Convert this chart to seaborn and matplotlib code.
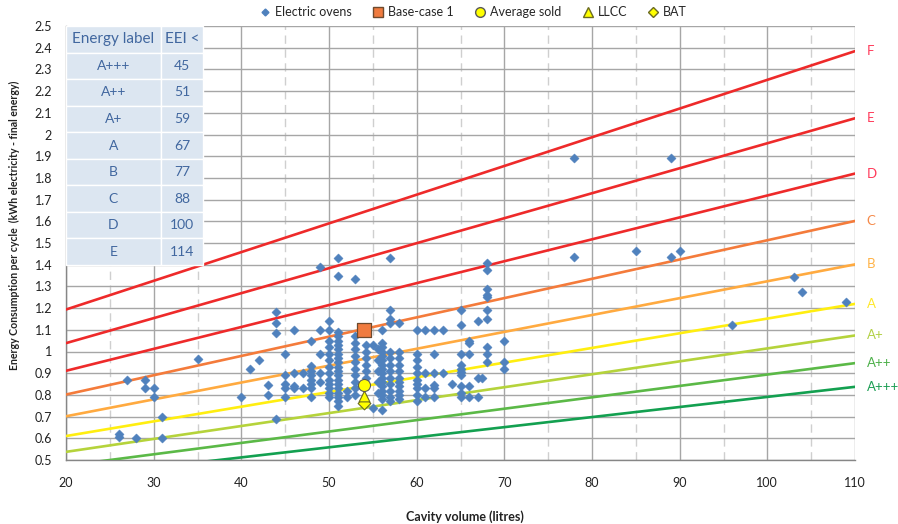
import numpy as np
import pandas as pd
import matplotlib
matplotlib.use("Agg")
import matplotlib.pyplot as plt
import matplotlib.transforms as mtransforms
from matplotlib.lines import Line2D
from matplotlib.ticker import MultipleLocator, FuncFormatter
import seaborn as sns

# ---------------- data ----------------
oven_volume = [
    26, 26, 27, 28, 29, 29, 30, 30, 31, 31, 35, 40, 41, 42, 43, 43,
    44, 44, 44, 44, 45, 45, 45, 45, 45, 46, 46, 46, 46, 47, 47,
    48, 48, 48, 48, 48, 48, 48, 48, 49, 49, 49, 49, 49,
    50, 50, 50, 50, 50, 50, 50, 50, 50, 50, 50, 50, 50,
    51, 51, 51, 51, 51, 51, 51, 51, 51, 51, 51, 51, 51, 51, 51, 51, 51, 51, 51, 51,
    52, 52,
    53, 53, 53, 53, 53, 53, 53, 53, 53, 53, 53,
    54.2, 54.2, 54.2, 54.2, 54.2, 54.2,
    55, 55, 55.6, 55.6, 55.6, 55.6, 55.6,
    56, 56, 56, 56, 56, 56, 56, 56, 56, 56, 56, 56, 56, 56, 56, 56,
    57, 57, 57, 57, 57, 57, 57, 57, 57, 57, 57, 57, 57,
    58, 58, 58, 58, 58, 58, 58, 58, 58, 58, 58,
    60, 60, 60, 60, 60, 60, 60, 60, 60, 60,
    61, 61, 61, 61, 62, 62, 62, 62, 62, 62, 63, 63, 64,
    65, 65, 65, 65, 65, 65, 65, 65, 65, 65,
    66, 66, 66, 66, 66, 67, 67, 67, 67.5,
    68, 68, 68, 68, 68, 68, 68, 68, 68, 68,
    70, 70, 70, 78, 78, 85, 89, 89, 90, 96, 103, 104, 109,
]
oven_energy = [
    0.62, 0.605, 0.87, 0.60, 0.87, 0.83, 0.83, 0.79, 0.70, 0.60, 0.965, 0.79, 0.92, 0.96, 0.845, 0.80,
    1.18, 1.13, 1.085, 0.69, 0.99, 0.89, 0.85, 0.83, 0.79, 1.10, 0.90, 0.84, 0.83, 0.90, 0.83,
    1.05, 0.935, 0.91, 0.89, 0.87, 0.85, 0.83, 0.79, 1.39, 1.10, 0.99, 0.90, 0.86,
    1.14, 1.10, 1.05, 1.02, 0.99, 0.96, 0.93, 0.90, 0.87, 0.85, 0.83, 0.81, 0.79,
    1.43, 1.35, 1.09, 1.07, 1.05, 1.03, 1.01, 0.99, 0.97, 0.95, 0.93, 0.91, 0.89, 0.87, 0.85, 0.83, 0.81, 0.79, 0.77, 0.75,
    0.82, 0.79,
    1.335, 1.07, 1.04, 1.01, 0.98, 0.95, 0.92, 0.89, 0.86, 0.83, 0.80,
    1.03, 1.00, 0.97, 0.94, 0.91, 0.88,
    1.03, 0.74, 1.01, 0.96, 0.91, 0.86, 0.81,
    1.10, 1.04, 1.02, 1.00, 0.98, 0.96, 0.94, 0.92, 0.90, 0.88, 0.86, 0.84, 0.82, 0.80, 0.78, 0.73,
    1.43, 1.19, 1.15, 1.13, 1.00, 0.97, 0.94, 0.91, 0.88, 0.85, 0.82, 0.79, 0.77,
    1.13, 1.00, 0.97, 0.94, 0.91, 0.88, 0.86, 0.84, 0.82, 0.80, 0.78,
    1.10, 0.99, 0.96, 0.93, 0.90, 0.87, 0.85, 0.83, 0.80, 0.77,
    1.10, 0.90, 0.83, 0.79, 1.10, 0.99, 0.90, 0.845, 0.83, 0.79, 1.10, 0.90, 0.85,
    1.19, 1.12, 0.99, 0.94, 0.92, 0.905, 0.89, 0.84, 0.81, 0.79,
    1.05, 1.04, 0.99, 0.84, 0.79, 1.14, 0.88, 0.79, 0.88,
    1.41, 1.375, 1.29, 1.26, 1.25, 1.19, 1.15, 1.02, 0.99, 0.95,
    1.05, 0.95, 0.92, 1.89, 1.435, 1.465, 1.89, 1.435, 1.465, 1.12, 1.345, 1.275, 1.23,
]

base_case_volume = [54]
base_case_energy = [1.10]
average_volume = [54]
average_energy = [0.845]
llcc_volume = [54]
llcc_energy = [0.795]
bat_volume = [54]
bat_energy = [0.762]

# class limit lines (EEI thresholds as drawn) and standard consumption
line_labels = ["A+++", "A++", "A+", "A", "B", "C", "D", "E", "F"]
line_eei = [46, 52, 59, 67, 77, 88, 100, 114, 131]
line_colors = ["#13A050", "#5BB947", "#B5D33B", "#FFEE10", "#FFAA40",
               "#F47B3B", "#EE2A2A", "#EE2A2A", "#EE2A2A"]
label_colors = ["#1E9E55", "#4DB04A", "#B3D145", "#FFE82A", "#FFB347",
                "#F58A4A", "#FF3A5A", "#FF3A5A", "#FF3A5A"]
sec_slope = 0.0101
sec_intercept = 0.709

table_labels = ["A+++", "A++", "A+", "A", "B", "C", "D", "E"]
table_eei = [45, 51, 59, 67, 77, 88, 100, 114]

x_range = [20, 110]
y_range = [0.5, 2.5]

# ---------------- style ----------------
sns.set_style("white")
plt.rcParams["font.family"] = ["Lato", "DejaVu Sans"]

fig = plt.figure(figsize=(8.98, 5.24), dpi=100)
ax = fig.add_axes([66 / 898, 1 - 460 / 524, (855 - 66) / 898, (460 - 26) / 524])

# lines
vol_grid = np.array(x_range, dtype=float)
rows = []
for lab, eei in zip(line_labels, line_eei):
    for v in vol_grid:
        rows.append({"volume": v, "energy": eei / 100 * (sec_slope * v + sec_intercept), "label": lab})
df_lines = pd.DataFrame(rows)
sns.lineplot(data=df_lines, x="volume", y="energy", hue="label",
             palette=dict(zip(line_labels, line_colors)), hue_order=line_labels,
             linewidth=1.9, legend=False, ax=ax, zorder=3)

# right labels
trans = mtransforms.blended_transform_factory(ax.transAxes, ax.transData)
for lab, eei, c in zip(line_labels, line_eei, label_colors):
    yv = eei / 100 * (sec_slope * x_range[1] + sec_intercept)
    ax.text(1.015, yv, lab, transform=trans, color=c, fontsize=9.5, va="center", ha="left", clip_on=False)

# scatter
oven_color = "#4F81BD"
sns.scatterplot(x=oven_volume, y=oven_energy, marker="D", s=22, color=oven_color,
                edgecolor=oven_color, linewidth=0.3, ax=ax, zorder=5)
sns.scatterplot(x=base_case_volume, y=base_case_energy, marker="s", s=95, color="#F07B3F",
                edgecolor="#6E4A2E", linewidth=0.9, ax=ax, zorder=6)
sns.scatterplot(x=bat_volume, y=bat_energy, marker="D", s=42, color="#FFFF00",
                edgecolor="#6B6B20", linewidth=0.8, ax=ax, zorder=6)
sns.scatterplot(x=llcc_volume, y=llcc_energy, marker="^", s=60, color="#FFFF00",
                edgecolor="#6B6B20", linewidth=0.8, ax=ax, zorder=7)
sns.scatterplot(x=average_volume, y=average_energy, marker="o", s=75, color="#FFFF00",
                edgecolor="#595959", linewidth=0.8, ax=ax, zorder=8)

# axes
ax.set_xlim(*x_range)
ax.set_ylim(*y_range)
ax.xaxis.set_major_locator(MultipleLocator(10))
ax.xaxis.set_minor_locator(MultipleLocator(5))
ax.yaxis.set_major_locator(MultipleLocator(0.1))
ax.yaxis.set_major_formatter(FuncFormatter(lambda v, p: f"{round(v, 1):g}"))
ax.grid(which="major", axis="both", color="#A6A6A6", linewidth=1.0, zorder=0)
ax.grid(which="minor", axis="x", color="#CFCFCF", linewidth=1.0, linestyle=(0, (6, 4)), zorder=0)
ax.set_axisbelow(True)
for s in ["top", "right"]:
    ax.spines[s].set_visible(False)
for s in ["left", "bottom"]:
    ax.spines[s].set_color("#868686")
    ax.spines[s].set_linewidth(1.0)
ax.tick_params(axis="both", which="major", direction="out", length=4, color="#868686",
               labelsize=9, labelcolor="#222222")
ax.tick_params(axis="x", which="minor", length=0)
ax.tick_params(axis="x", pad=8)
ax.tick_params(axis="y", pad=6)

ax.set_xlabel("Cavity volume (litres)", fontsize=9, fontweight="bold", color="#222222")
ax.set_ylabel("Energy Consumption per cycle  (kWh electricity - final energy)", fontsize=7.6,
              fontweight="bold", color="#222222")
ax.xaxis.set_label_coords(0.506, -0.115)
ax.yaxis.set_label_coords(-0.058, 0.54)

# table
cell_text = [["Energy label", "EEI <"]] + [[l, str(e)] for l, e in zip(table_labels, table_eei)]
tab = ax.table(cellText=cell_text, cellLoc="center", colWidths=[0.693, 0.307],
               bbox=[0.0, 1 - (265 - 26) / 434, (203 - 66) / 789, (265 - 26) / 434], zorder=10)
tab.auto_set_font_size(False)
for (r, c), cell in tab.get_celld().items():
    cell.set_facecolor("#DCE6F1")
    cell.set_edgecolor("white")
    cell.set_linewidth(1.0)
    cell.get_text().set_color("#41679F")
    cell.get_text().set_fontsize(11 if r == 0 else 10)

# legend
handles = [
    Line2D([], [], marker="D", linestyle="", color=oven_color, markersize=3.5),
    Line2D([], [], marker="s", linestyle="", markerfacecolor="#F07B3F", markeredgecolor="#6E4A2E", markersize=7),
    Line2D([], [], marker="o", linestyle="", markerfacecolor="#FFFF00", markeredgecolor="#595959", markersize=7),
    Line2D([], [], marker="^", linestyle="", markerfacecolor="#FFFF00", markeredgecolor="#6B6B20", markersize=7),
    Line2D([], [], marker="D", linestyle="", markerfacecolor="#FFFF00", markeredgecolor="#6B6B20", markersize=5.5),
]
labels = ["Electric ovens", "Base-case 1", "Average sold", "LLCC", "BAT"]
fig.legend(handles, labels, loc="center", bbox_to_anchor=(473 / 898, 1 - 12 / 524), ncol=5,
           frameon=False, fontsize=9, handletextpad=0.3, columnspacing=1.6, handlelength=1.0)

fig.savefig("out.png", dpi=100)
